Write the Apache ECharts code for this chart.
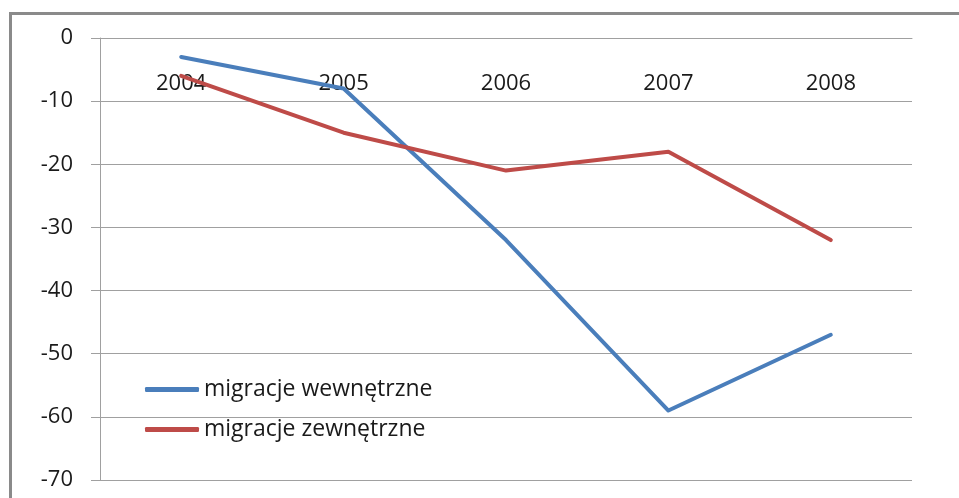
<!DOCTYPE html>
<html>
<head>
<meta charset="utf-8">
<script src="https://cdn.jsdelivr.net/npm/echarts@6/dist/echarts.min.js"></script>
<style>
  html, body { margin: 0; padding: 0; background: #fff; }
  #wrap { position: relative; width: 959px; height: 498px; overflow: hidden; }
  #frame {
    position: absolute; left: 9px; top: 12px; width: 970px; height: 500px;
    border-top: 3px solid #8a8a8a; border-left: 3px solid #8a8a8a;
  }
  #chart { position: absolute; left: 0; top: 0; width: 959px; height: 498px; }
</style>
</head>
<body>
<div id="wrap">
  <div id="frame"></div>
  <div id="chart"></div>
</div>
<script>
const years = ["2004", "2005", "2006", "2007", "2008"]
const wewnetrzne = [-3, -8, -32, -59, -47]
const zewnetrzne = [-6, -15, -21, -18, -32]
const yTicks = [0, -10, -20, -30, -40, -50, -60, -70]

const font = "'Open Sans', 'DejaVu Sans', sans-serif"
const chart = echarts.init(document.getElementById("chart"))

chart.setOption({
  animation: false,
  grid: {
    left: 100,
    right: 47,
    top: 38,
    bottom: 18
  },
  legend: {
    orient: "vertical",
    left: 140,
    top: 373,
    itemWidth: 54,
    itemHeight: 5,
    itemGap: 17,
    icon: "roundRect",
    textStyle: {
      fontFamily: font,
      fontSize: 23,
      color: "#1a1a1a"
    },
    data: ["migracje wewnętrzne", "migracje zewnętrzne"]
  },
  xAxis: {
    type: "category",
    position: "top",
    data: years,
    boundaryGap: true,
    axisLine: {
      onZero: false,
      lineStyle: { color: "#a0a0a0", width: 1 }
    },
    axisTick: {
      inside: true,
      length: 9,
      lineStyle: { color: "#a0a0a0" }
    },
    axisLabel: {
      inside: true,
      margin: 35,
      fontFamily: font,
      fontSize: 22,
      color: "#1a1a1a"
    },
    splitLine: { show: false }
  },
  yAxis: {
    type: "value",
    min: yTicks[yTicks.length - 1],
    max: yTicks[0],
    interval: 10,
    axisLine: {
      show: true,
      lineStyle: { color: "#a0a0a0", width: 1 }
    },
    axisTick: {
      show: true,
      length: 9,
      lineStyle: { color: "#a0a0a0" }
    },
    axisLabel: {
      margin: 27,
      fontFamily: font,
      fontSize: 22,
      color: "#1a1a1a"
    },
    splitLine: {
      lineStyle: { color: "#a0a0a0", width: 1 }
    }
  },
  series: [
    {
      name: "migracje wewnętrzne",
      type: "line",
      data: wewnetrzne,
      showSymbol: false,
      itemStyle: { color: "#4a7ebb" },
      lineStyle: { color: "#4a7ebb", width: 4, cap: "round", join: "round" }
    },
    {
      name: "migracje zewnętrzne",
      type: "line",
      data: zewnetrzne,
      showSymbol: false,
      itemStyle: { color: "#be4b48" },
      lineStyle: { color: "#be4b48", width: 4, cap: "round", join: "round" }
    }
  ]
})
</script>
</body>
</html>
